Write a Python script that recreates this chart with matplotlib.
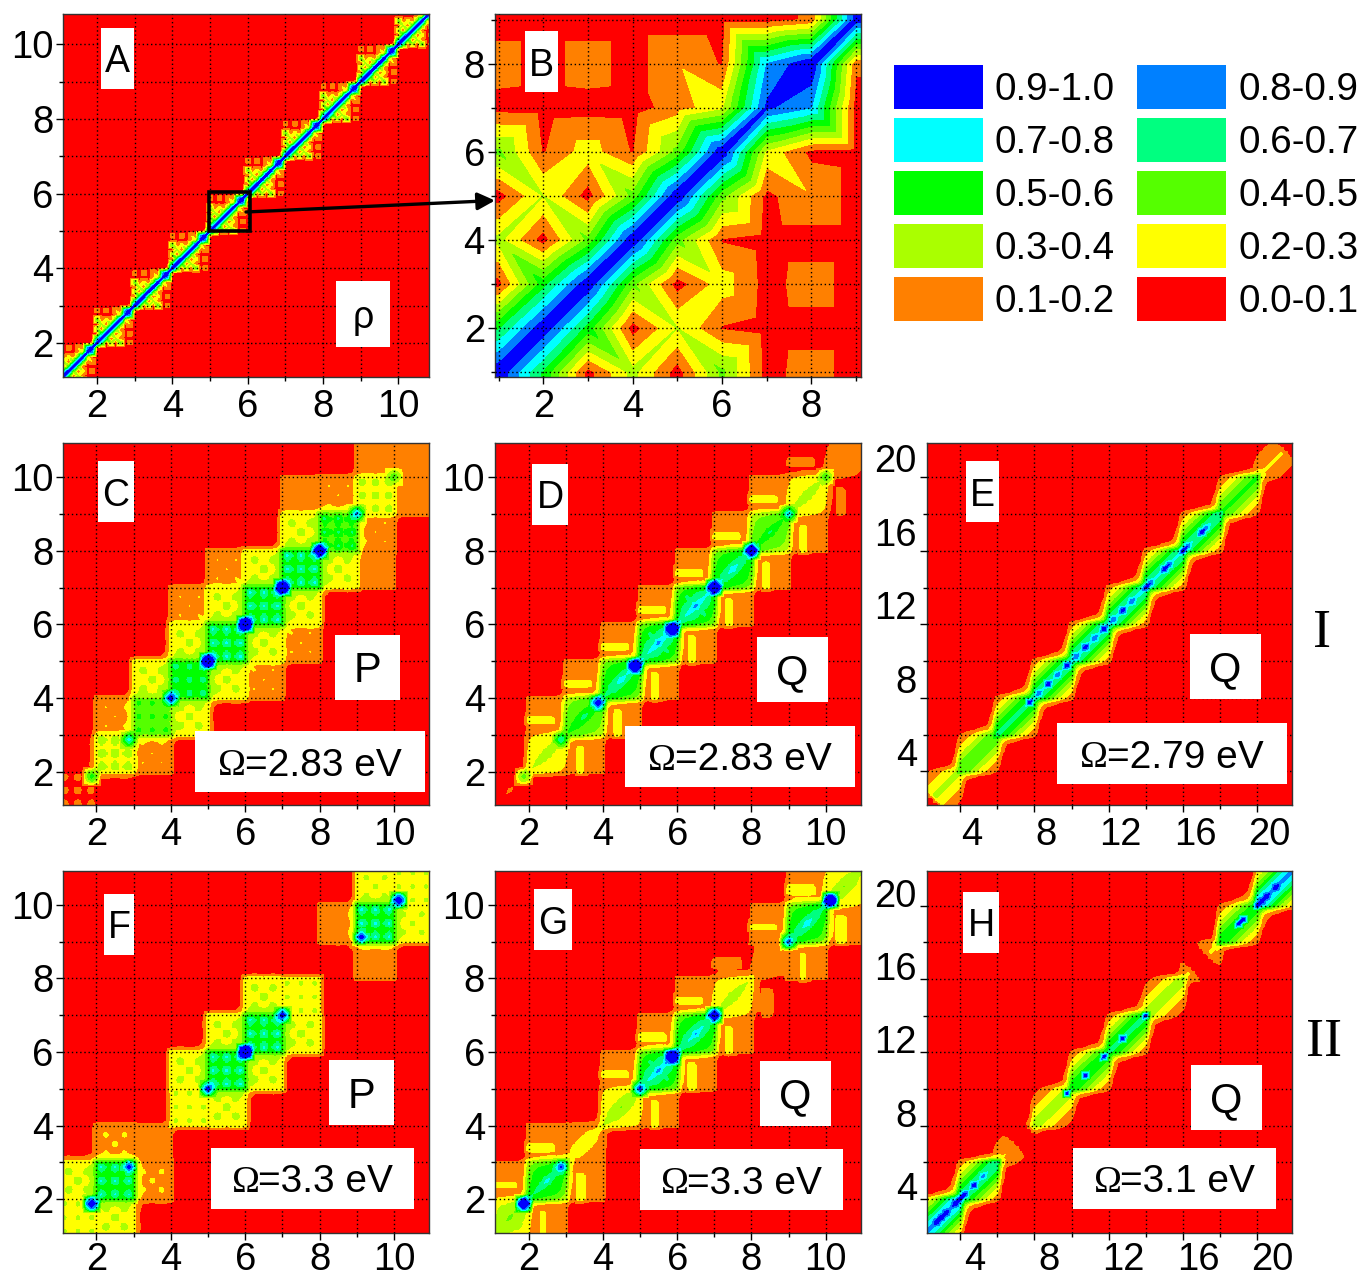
import numpy as np
import matplotlib
matplotlib.use("Agg")
import matplotlib.pyplot as plt
import matplotlib.tri as mtri
from matplotlib.patches import Rectangle, FancyArrowPatch
from matplotlib.transforms import ScaledTranslation

W, H = 1362, 1277
plt.rcParams['font.family'] = ['Liberation Sans', 'DejaVu Sans']

LEVELS = [0, .1, .2, .3, .4, .5, .6, .7, .8, .9, 1.0]
COLORS = ['#ff0000', '#ff8000', '#ffff00', '#aaff00', '#55ff00',
          '#00ff00', '#00ff80', '#00ffff', '#0080ff', '#0000ff']
LEGEND_LEFT = ['0.9-1.0', '0.7-0.8', '0.5-0.6', '0.3-0.4', '0.1-0.2']
LEGEND_RIGHT = ['0.8-0.9', '0.6-0.7', '0.4-0.5', '0.2-0.3', '0.0-0.1']

# Panel B: matrix, sites 1..9, rows upward in y (also the repeating cell of panel A)
B_MATRIX = [
 [.98, .58, .06, .33, .05, .42, .06, .15, .05],
 [.58, .98, .55, .05, .30, .09, .05, .05, .05],
 [.06, .55, .98, .42, .05, .25, .06, .15, .05],
 [.33, .05, .42, .98, .43, .09, .05, .05, .05],
 [.05, .30, .05, .43, .98, .43, .07, .19, .05],
 [.42, .09, .25, .09, .43, .98, .27, .07, .05],
 [.06, .05, .06, .05, .15, .27, .92, .80, .05],
 [.15, .05, .15, .05, .19, .09, .80, .99, .12],
 [.05, .05, .05, .05, .05, .05, .05, .12, .95],
]

# Unit-cell textures (9 x 9, rows upward in y)
P_RING = [
 [.88, .92, .90, .90, .92, .90, .90, .92, .88],
 [.88, 1.3, 1.1, 1.02, 1.3, 1.02, 1.1, 1.3, .88],
 [.88, 1.1, .92, .92, 1.1, .92, .92, 1.1, .88],
 [.88, 1.02, .92, .92, 1.02, .92, .92, 1.02, .88],
 [.88, 1.3, 1.1, 1.02, 1.3, 1.02, 1.1, 1.3, .88],
 [.88, 1.02, .92, .92, 1.02, .92, .92, 1.02, .88],
 [.88, 1.1, .92, .92, 1.1, .92, .92, 1.1, .88],
 [.88, 1.3, 1.1, 1.02, 1.3, 1.02, 1.1, 1.3, .88],
 [.88, .92, .90, .90, .92, .90, .90, .92, .88],
]
P_SPOT = [
 [1, 1, 1, 1, 1, 1, 1, 1, 1],
 [1, 1, 1.15, 1, 1, 1, 1.15, 1, 1],
 [1, 1.15, 1.35, 1.15, 1, 1.15, 1.35, 1.15, 1],
 [1, 1, 1.15, 1, 1.15, 1, 1.15, 1, 1],
 [1, 1, 1, 1.15, 1.35, 1.15, 1, 1, 1],
 [1, 1, 1.15, 1, 1.15, 1, 1.15, 1, 1],
 [1, 1.15, 1.35, 1.15, 1, 1.15, 1.35, 1.15, 1],
 [1, 1, 1.15, 1, 1, 1, 1.15, 1, 1],
 [1, 1, 1, 1, 1, 1, 1, 1, 1],
]
P_OCT = [
 [1.0, .92, .88, .85, .80, .75, .70, .65, .58],
 [.92, 1.08, 1.0, .98, .95, .92, .88, .78, .65],
 [.88, 1.0, 1.15, 1.05, 1.0, .90, .98, .88, .70],
 [.85, .98, 1.05, 1.2, 1.05, .98, .90, .92, .75],
 [.80, .95, 1.0, 1.05, 1.35, 1.05, 1.0, .95, .80],
 [.75, .92, .90, .98, 1.05, 1.2, 1.05, .98, .85],
 [.70, .88, .98, .90, 1.0, 1.05, 1.15, 1.0, .88],
 [.65, .78, .88, .92, .95, .98, 1.0, 1.08, .92],
 [.58, .65, .70, .75, .80, .85, .88, .92, 1.0],
]
P_STREAK = [
 [1, 1, 1, 2.0, 1.5, 1, 1, 1, 1],
 [1, 1, 1, 2.0, 1.5, 1, 1, 1, 1],
 [1, 1, 1, 2.0, 1.5, 1, 1, 1, 1],
 [1, 1, 1, 2.0, 1.5, 1, 1, 1, 1],
 [1, 1, 1, 2.0, 1.5, 1, 1, 1, 1],
 [1, 1, 1, 2.0, 1.5, 1, 1, 1, 1],
 [1, 1, 1, 1, 1, 1, 1, 1, 1],
 [1, 1, 1, 1, 1, 1, 1, 1, 1],
 [1, 1, 1, 1, 1, 1, 1, 1, 1],
]
P_BAND = [
 [1.15, 1.05, .95, .80, .65, .50, .40, .30, .22],
 [1.05, 1.15, 1.05, .95, .80, .65, .50, .40, .30],
 [.95, 1.05, 1.15, 1.05, .95, .80, .65, .50, .40],
 [.80, .95, 1.05, 1.15, 1.05, .95, .80, .65, .50],
 [.65, .80, .95, 1.05, 1.15, 1.05, .95, .80, .65],
 [.50, .65, .80, .95, 1.05, 1.15, 1.05, .95, .80],
 [.40, .50, .65, .80, .95, 1.05, 1.15, 1.05, .95],
 [.30, .40, .50, .65, .80, .95, 1.05, 1.15, 1.05],
 [.22, .30, .40, .50, .65, .80, .95, 1.05, 1.15],
]
P_BAND_OFF = [
 [.00, .00, .00, .00, .00, .00, .00, .00, .00],
 [.05, .00, .00, .00, .00, .00, .00, .00, .00],
 [.10, .05, .00, .00, .00, .00, .00, .00, .00],
 [.14, .10, .05, .00, .00, .00, .00, .00, .00],
 [.20, .14, .10, .05, .00, .00, .00, .00, .00],
 [.25, .20, .14, .10, .05, .00, .00, .00, .00],
 [.33, .25, .20, .14, .10, .05, .00, .00, .00],
 [.42, .33, .25, .20, .14, .10, .05, .00, .00],
 [.50, .42, .33, .25, .20, .14, .10, .05, .00],
]
PEAK_KERNEL = [[.55, .75, .55], [.75, 1, .75], [.55, .75, .55]]

C_DIAG = [.09, .28, .42, .52, .56, .56, .56, .48, .27, .15]
C_OFF1 = [.06, .15, .25, .25, .25, .25, .25, .15, .14]
C_OFF2 = [.03, .03, .05, .15, .15, .04, .13, .03]
C_SITES = [1.875, 2.875, 4, 5, 6, 7, 8, 9, 10]
C_PEAKS = [.55, .75, 1.05, 1.5, 1.6, 1.5, 1.3, .85, .5]

D_DIAG = [.08, .28, .48, .58, .62, .62, .58, .46, .28, .13]
D_OFF1 = [.05, .13, .13, .13, .13, .13, .13, .13, .07]
D_OFF2 = [.03, .03, .03, .03, .03, .03, .03, .03]
D_SITES = [1.875, 2.875, 3.875, 4.875, 5.875, 7, 8, 9, 10]
D_PEAKS = [.45, .70, 1.1, 1.4, 1.5, 1.4, 1.25, .8, .5]

F_DIAG = [.25, .55, .14, .25, .56, .56, .25, .06, .56, .25]
F_OFF1 = [.25, .16, .03, .25, .25, .25, .03, .14, .24]
F_OFF2 = [.06, .03, .03, .05, .04, .04, .03, .03]
F_SITES = [1.875, 2.875, 5, 6, 7, 9.125, 10.125]
F_PEAKS = [1.15, 1.0, 1.0, 1.6, 1.05, 1.0, 1.15]

G_DIAG = [.32, .55, .20, .30, .62, .60, .28, .12, .58, .30]
G_OFF1 = [.12, .14, .05, .13, .14, .13, .08, .12, .15]
G_OFF2 = [.03, .03, .03, .03, .03, .03, .03, .03]
G_SITES = [1.875, 2.875, 5, 5.875, 7, 9, 10.125]
G_PEAKS = [1.25, .95, .95, 1.55, 1.2, .9, 1.35]

E_DIAG = [.28, .42, .55, .60, .63, .63, .62, .60, .45, .18]
E_OFF1 = [.30, .50, .60, .62, .62, .62, .60, .50, .30]
E_OFF2 = [.0, .0, .0, .0, .0, .0, .0, .0]
E_GAPS = [(0, 2.6), (21.4, 23)]
E_SITES = [7.75, 8.25, 8.75, 9.25, 9.75, 10.25, 10.75, 11.25, 11.75, 12.25, 12.75,
           13.25, 14, 14.25, 15, 15.25, 16, 16.25, 17, 17.25]
E_PEAKS = [1.4, .9, 1.4, .9, 1.4, .9, 1.4, .9, 1.4, .9, 1.4,
           .9, 1.4, .9, 1.4, .9, 1.4, .9, 1.3, .85]

H_DIAG = [.72, .60, .17, .30, .50, .55, .30, .18, .50, .72]
H_OFF1 = [.65, .30, .03, .40, .55, .45, .12, .12, .70]
H_OFF2 = [.0, .0, .0, .0, .0, .0, .0, .0]
H_GAPS = [(6.9, 7.8), (16.4, 17.3)]
H_SITES = [2.75, 3, 3.25, 3.75, 4, 4.25, 4.75, 5.25, 9.75, 10.75, 11.75, 12.75, 14,
           19, 19.25, 20, 20.25, 20.5, 21]
H_PEAKS = [1.1, 1.2, 1.2, 1.7, 1.4, 1.2, 1.3, .85, 1.0, 1.2, 1.3, 1.3, 1.0,
           1.2, 1.2, 1.4, 1.8, 1.2, 1.3]

fig = plt.figure(figsize=(W / 100, H / 100), dpi=100)
fig.patch.set_facecolor('white')


def fx(x):
    return x / W


def fy(y):
    return 1 - y / H


def spread(f):
    """Let each region bleed one grid step outward, as the original contouring does."""
    k = np.array([1, 2, 1]) / 4
    g = np.pad(f, 1, mode='edge')
    g = np.apply_along_axis(lambda r: np.convolve(r, k, mode='same'), 0, g)
    g = np.apply_along_axis(lambda r: np.convolve(r, k, mode='same'), 1, g)
    return np.maximum(f, g[1:-1, 1:-1])


def block_field(start, size, diag, off1, off2, p_diag, p_off):
    n = len(diag)
    f = np.full((8 * n + 1, 8 * n + 1), .03)
    pd, po = np.array(p_diag, float), np.array(p_off, float)

    def put(iy, ix, arr):
        sy, sx = slice(8 * iy, 8 * iy + 9), slice(8 * ix, 8 * ix + 9)
        f[sy, sx] = np.maximum(f[sy, sx], arr)

    for b, a in enumerate(off2):
        put(b, b + 2, a * po)
        put(b + 2, b, a * po.T)
    for b, a in enumerate(off1):
        put(b, b + 1, a * po)
        put(b + 1, b, a * po.T)
    for b, a in enumerate(diag):
        put(b, b, a * pd)
    xs = start + np.arange(8 * n + 1) * size / 8
    return xs, spread(f)


def add_peaks(xs, f, sites, peaks, kernel=None):
    step = xs[1] - xs[0]
    for s, v in zip(sites, peaks):
        k = int(round((s - xs[0]) / step))
        if kernel is None:
            f[k, k] = max(f[k, k], v)
        else:
            ker = np.array(kernel)
            for dy in (-1, 0, 1):
                for dx in (-1, 0, 1):
                    f[k + dy, k + dx] = max(f[k + dy, k + dx], v * ker[dy + 1, dx + 1])


def blank_gaps(xs, f, gaps):
    mid = (xs[:, None] + xs[None, :]) / 2
    for lo, hi in gaps:
        f[(mid > lo) & (mid < hi)] = .03


def make_axes(rect, xlim, ylim, major, minor, xshift=0, yshift=0, xpad=3.5):
    x0, y0, x1, y1 = rect
    ax = fig.add_axes([fx(x0), fy(y1), (x1 - x0) / W, (y1 - y0) / H])
    ax.set_xlim(*xlim)
    ax.set_ylim(*ylim)
    ax.set_xticks(major)
    ax.set_yticks(major)
    ax.set_xticks(minor, minor=True)
    ax.set_yticks(minor, minor=True)
    ax.set_xticklabels([str(m) for m in major])
    ax.set_yticklabels([str(m) for m in major])
    ax.tick_params(which='major', length=5, width=1, labelsize=27.5, pad=2)
    ax.tick_params(axis='x', which='major', pad=xpad)
    ax.tick_params(which='minor', length=3, width=1)
    ax.set_axisbelow(False)
    ax.grid(which='both', color='k', lw=1.0, ls=(0, (1, 2)))
    for s in ax.spines.values():
        s.set_linewidth(1.0)
        s.set_color('#333333')
    if xshift:
        off = ScaledTranslation(xshift / 100, 0, fig.dpi_scale_trans)
        for lab in ax.get_xticklabels():
            lab.set_transform(lab.get_transform() + off)
    if yshift:
        off = ScaledTranslation(0, yshift / 100, fig.dpi_scale_trans)
        for lab in ax.get_yticklabels():
            lab.set_transform(lab.get_transform() + off)
    return ax


def draw(ax, xs, field):
    """Contour on a mesh whose cells are split along their higher-valued diagonal."""
    n = len(xs)
    xx, yy = np.meshgrid(xs, xs)
    z = np.clip(field, .001, .999).ravel()
    idx = np.arange(n * n).reshape(n, n)
    a, b, c, d = idx[:-1, :-1].ravel(), idx[:-1, 1:].ravel(), idx[1:, 1:].ravel(), idx[1:, :-1].ravel()
    main = z[a] + z[c] >= z[b] + z[d]
    tris = np.r_[np.c_[a, b, c][main], np.c_[a, c, d][main],
                 np.c_[a, b, d][~main], np.c_[b, c, d][~main]]
    tri = mtri.Triangulation(xx.ravel(), yy.ravel(), tris)
    ax.tricontourf(tri, z, levels=LEVELS, colors=COLORS, antialiased=False)


def box(x0, y0, x1, y1):
    fig.add_artist(Rectangle((fx(x0), fy(y1)), (x1 - x0) / W, (y1 - y0) / H,
                             transform=fig.transFigure, fc='white', ec='none', zorder=2))


def label(bx, text, size):
    box(*bx)
    fig.text(fx((bx[0] + bx[2]) / 2), fy((bx[1] + bx[3]) / 2 + 4), text, fontsize=size,
             ha='center', va='center', zorder=3)


def omega(bx, text, dx1, dx2):
    box(*bx)
    cy = fy((bx[1] + bx[3]) / 2 + 4)
    fig.text(fx(bx[0] + dx1), cy, '\u03a9', fontsize=27, family='Liberation Serif',
             ha='left', va='center', zorder=3)
    fig.text(fx(bx[0] + dx2), cy, text, fontsize=28, ha='left', va='center', zorder=3)


SMALL_MAJOR = [2, 4, 6, 8, 10]
SMALL_MINOR = [3, 5, 7, 9]
LONG_MAJOR = [4, 8, 12, 16, 20]
LONG_MINOR = [6, 10, 14, 18]

# ---- A: cell of panel B repeated along the diagonal
b_arr = np.array(B_MATRIX)
n_a = 10
a_field = np.full((8 * n_a + 1, 8 * n_a + 1), .03)
for b in range(n_a):
    sl = slice(8 * b, 8 * b + 9)
    a_field[sl, sl] = np.maximum(a_field[sl, sl], b_arr)
a_xs = 1 + np.arange(8 * n_a + 1) / 8
ax = make_axes((63, 14, 429, 377), (1.10, 10.81), (1.09, 10.81), SMALL_MAJOR, SMALL_MINOR)
draw(ax, a_xs, a_field)
label((101, 28, 134, 89), 'A', 27)
label((336, 281, 390, 347), '\u03c1', 27)

# ---- B
ax = make_axes((494.5, 14, 860.5, 377), (.91, 9.10), (.89, 9.13), [2, 4, 6, 8], [1, 3, 5, 7, 9])
b_xs = np.r_[.85, np.arange(1, 10), 9.15]
draw(ax, b_xs, np.pad(b_arr, 1, mode='edge'))
label((525, 31, 558, 92), 'B', 27)

# ---- C
xs, f = block_field(1, 1, C_DIAG, C_OFF1, C_OFF2, P_RING, P_SPOT)
add_peaks(xs, f, C_SITES, C_PEAKS, PEAK_KERNEL)
ax = make_axes((63, 443, 429, 805), (1.10, 10.94), (1.10, 10.92), SMALL_MAJOR, SMALL_MINOR)
draw(ax, xs, f)
label((98, 461, 134, 522), 'C', 27)
label((335, 635, 400, 700), 'P', 30)
omega((195, 731, 425, 792), '=2.83 eV', 23, 50)

# ---- D
xs, f = block_field(1, 1, D_DIAG, D_OFF1, D_OFF2, P_OCT, P_STREAK)
add_peaks(xs, f, D_SITES, D_PEAKS, PEAK_KERNEL)
ax = make_axes((494.7, 443, 860.7, 805), (1.09, 10.94), (1.10, 10.92), SMALL_MAJOR, SMALL_MINOR)
draw(ax, xs, f)
label((532, 464, 568, 525), 'D', 27)
label((757, 637, 828, 702), 'Q', 30)
omega((625, 726, 855, 787), '=2.83 eV', 23, 50)

# ---- E
xs, f = block_field(2, 2, E_DIAG, E_OFF1, E_OFF2, P_BAND, P_BAND_OFF)
blank_gaps(xs, f, E_GAPS)
add_peaks(xs, f, E_SITES, E_PEAKS)
ax = make_axes((926.7, 443, 1292, 805), (2.21, 21.86), (2.17, 21.86), LONG_MAJOR, LONG_MINOR,
               xshift=12, yshift=19)
draw(ax, xs, f)
label((966, 461, 999, 522), 'E', 27)
label((1190, 634, 1261, 699), 'Q', 30)
omega((1057, 723, 1287, 784), '=2.79 eV', 23, 50)

# ---- F
xs, f = block_field(1, 1, F_DIAG, F_OFF1, F_OFF2, P_RING, P_SPOT)
add_peaks(xs, f, F_SITES, F_PEAKS, PEAK_KERNEL)
ax = make_axes((63, 870.7, 429, 1233), (1.10, 10.94), (1.08, 10.93), SMALL_MAJOR, SMALL_MINOR,
               xpad=1.5)
draw(ax, xs, f)
label((104, 894, 134, 955), 'F', 27)
label((329, 1060, 394, 1125), 'P', 30)
omega((211, 1148, 414, 1209), '=3.3 eV', 21, 47)

# ---- G
xs, f = block_field(1, 1, G_DIAG, G_OFF1, G_OFF2, P_OCT, P_STREAK)
add_peaks(xs, f, G_SITES, G_PEAKS, PEAK_KERNEL)
ax = make_axes((494.7, 870.7, 860.7, 1233), (1.09, 10.94), (1.08, 10.93), SMALL_MAJOR, SMALL_MINOR,
               xpad=1.5)
draw(ax, xs, f)
label((534, 889, 572, 950), 'G', 27)
label((760, 1061, 831, 1126), 'Q', 30)
omega((640, 1149, 843, 1210), '=3.3 eV', 21, 47)

# ---- H
xs, f = block_field(2, 2, H_DIAG, H_OFF1, H_OFF2, P_BAND, P_BAND_OFF)
blank_gaps(xs, f, H_GAPS)
add_peaks(xs, f, H_SITES, H_PEAKS)
ax = make_axes((926.7, 870.7, 1292, 1233), (2.21, 21.86), (2.15, 21.90), LONG_MAJOR, LONG_MINOR,
               xshift=15, yshift=13, xpad=1.5)
draw(ax, xs, f)
label((963, 892, 999, 953), 'H', 27)
label((1191, 1065, 1262, 1130), 'Q', 30)
omega((1073, 1148, 1276, 1209), '=3.1 eV', 21, 47)

# ---- legend
row_y = [65, 118, 171, 224, 277]
for lab_list, col_x, txt_x, col_off in ((LEGEND_LEFT, 894, 995, 0), (LEGEND_RIGHT, 1137, 1238, 1)):
    for r, (y, t) in enumerate(zip(row_y, lab_list)):
        colour = COLORS[9 - (2 * r + col_off)]
        fig.add_artist(Rectangle((fx(col_x), fy(y + 44)), 89 / W, 44 / H,
                                 transform=fig.transFigure, fc=colour, ec='none'))
        fig.text(fx(txt_x), fy(y + 21), t, fontsize=27.8, ha='left', va='center_baseline')

# ---- magnifier box and arrow
fig.add_artist(Rectangle((fx(209), fy(231)), 41 / W, 39 / H, transform=fig.transFigure,
                         fc='none', ec='k', lw=2.6, zorder=4))
fig.add_artist(FancyArrowPatch((fx(246), fy(212)), (fx(495), fy(200.5)),
                               transform=fig.transFigure, arrowstyle='-|>',
                               mutation_scale=26, lw=2.4, color='k',
                               shrinkA=0, shrinkB=0, zorder=4))

# ---- group marks
fig.text(fx(1322), fy(634), 'I', family='Liberation Serif', fontsize=39, ha='center',
         va='center', zorder=3)
fig.text(fx(1324), fy(1043), 'II', family='Liberation Serif', fontsize=39, ha='center',
         va='center', zorder=3)

fig.savefig('out.png', dpi=100)
